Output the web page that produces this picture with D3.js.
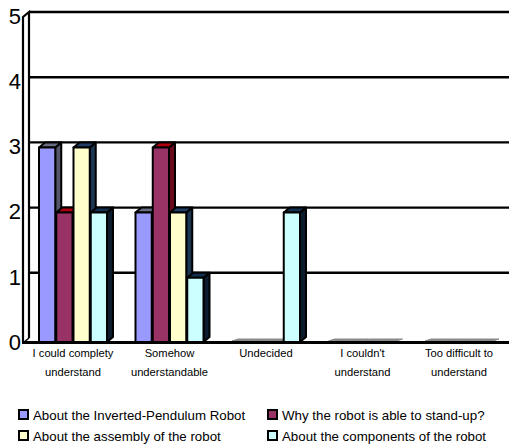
<!DOCTYPE html>
<html>
<head>
<meta charset="utf-8">
<script src="https://cdn.jsdelivr.net/npm/d3@7"></script>
<style>
  body { margin: 0; background: #fff; }
  svg text { font-family: "Liberation Sans", Arial, sans-serif; fill: #000; }
</style>
</head>
<body>
<div id="chart"></div>
<script>
// data
const categories = [
  ["I could complety", "understand"],
  ["Somehow", "understandable"],
  ["Undecided"],
  ["I couldn't", "understand"],
  ["Too difficult to", "understand"]
];
const seriesNames = [
  "About the Inverted-Pendulum Robot",
  "Why the robot is able to stand-up?",
  "About the assembly of the robot",
  "About the components of the robot"
];
const inverted = [3, 2, 0, 0, 0];
const standUp = [2, 3, 0, 0, 0];
const assembly = [3, 2, 0, 0, 0];
const components = [2, 1, 2, 0, 0];
const yTicks = [0, 1, 2, 3, 4, 5];

const allSeries = [inverted, standUp, assembly, components];
const fills = ["#9999ff", "#993366", "#ffffcc", "#ccffff"];
const sides = ["#55586a", "#6a0a1a", "#1c3552", "#0c1c2e"];
const tops = ["#6a6e80", "#b00010", "#20406a", "#133050"];

const width = 509, height = 448;
const dx = 6, dy = 5; // depth offset for the 3d look

const svg = d3.select("#chart").append("svg")
  .attr("width", width).attr("height", height);

// back plane scale, front plane is shifted down by dy
const yBack = d3.scaleLinear().domain([0, 5]).range([338, 12]);
const yFront = v => yBack(v) + dy;

const catIdx = d3.range(categories.length);
const x = d3.scaleBand().domain(catIdx).range([24.75, 507.25]);
const xs = d3.scaleBand().domain(d3.range(4)).range([-35, 34]);

// gridlines on back wall
svg.append("g").selectAll("line").data(yTicks.filter(d => d > 0)).join("line")
  .attr("x1", 29).attr("x2", width)
  .attr("y1", d => yBack(d)).attr("y2", d => yBack(d))
  .attr("stroke", "#000").attr("stroke-width", 2.4);

// left wall
const wall = svg.append("g").attr("fill", "none").attr("stroke", "#000");
wall.append("path")
  .attr("d", `M23,${yFront(0)} L23,${yFront(5)} L${23 + dx},${yBack(5)} L${23 + dx},${yBack(0)}`)
  .attr("stroke-width", 2.2);
wall.append("line").attr("x1", 23).attr("x2", 23 + dx)
  .attr("y1", yFront(0)).attr("y2", yBack(0)).attr("stroke-width", 1.5);

// y labels
svg.append("g").selectAll("text").data(yTicks).join("text")
  .attr("x", 21).attr("y", d => yFront(d) + 1)
  .attr("text-anchor", "end").attr("dominant-baseline", "middle")
  .attr("font-size", 22)
  .text(d => d);

// bars
const floorY = yFront(0) - 1;
const bars = svg.append("g");
allSeries.forEach((vals, s) => {
  vals.forEach((v, i) => {
    const x0 = x(i) + x.bandwidth() / 2 + xs(s) + 1;
    const x1 = x0 + xs.bandwidth() - 1;
    const yt = Math.min(yFront(v), floorY - 1);
    const g = bars.append("g").attr("stroke", "#000").attr("stroke-width", 2)
      .attr("stroke-linejoin", "round");
    if (v === 0) {
      g.append("path")
        .attr("d", `M${x0},${floorY - 1} L${x0 + dx},${floorY - 3} L${x1 + dx},${floorY - 3} L${x1},${floorY - 1} Z`)
        .attr("fill", "#8a8a8a").attr("stroke", "#8a8a8a").attr("stroke-width", 1);
      return;
    }
    g.append("path")
      .attr("d", `M${x1},${yt} L${x1 + dx},${yt - dy} L${x1 + dx},${floorY - dy} L${x1},${floorY} Z`)
      .attr("fill", sides[s]);
    g.append("path")
      .attr("d", `M${x0},${yt} L${x0 + dx},${yt - dy} L${x1 + dx},${yt - dy} L${x1},${yt} Z`)
      .attr("fill", tops[s]);
    g.append("rect")
      .attr("x", x0).attr("y", yt).attr("width", x1 - x0).attr("height", floorY - yt)
      .attr("fill", fills[s]);
  });
});

// floor edge
svg.append("line").attr("x1", 22).attr("x2", width)
  .attr("y1", floorY + 0.5).attr("y2", floorY + 0.5)
  .attr("stroke", "#000").attr("stroke-width", 3);

// category labels
const xl = svg.append("g").attr("font-size", 11.2).attr("text-anchor", "middle");
catIdx.forEach(i => {
  categories[i].forEach((line, k) => {
    xl.append("text")
      .attr("x", x(i) + x.bandwidth() / 2)
      .attr("y", 357 + k * 18.5)
      .text(line);
  });
});

// legend
const legPos = [[18, 420], [267, 420], [18, 441], [267, 441]];
const leg = svg.append("g").selectAll("g").data(seriesNames).join("g")
  .attr("transform", (d, i) => `translate(${legPos[i][0]},${legPos[i][1]})`);
leg.append("rect")
  .attr("x", 1).attr("y", -10).attr("width", 9).attr("height", 9)
  .attr("fill", (d, i) => fills[i]).attr("stroke", "#000").attr("stroke-width", 2);
leg.append("text")
  .attr("x", 15).attr("y", 0).attr("font-size", 13.3)
  .text(d => d);
</script>
</body>
</html>
